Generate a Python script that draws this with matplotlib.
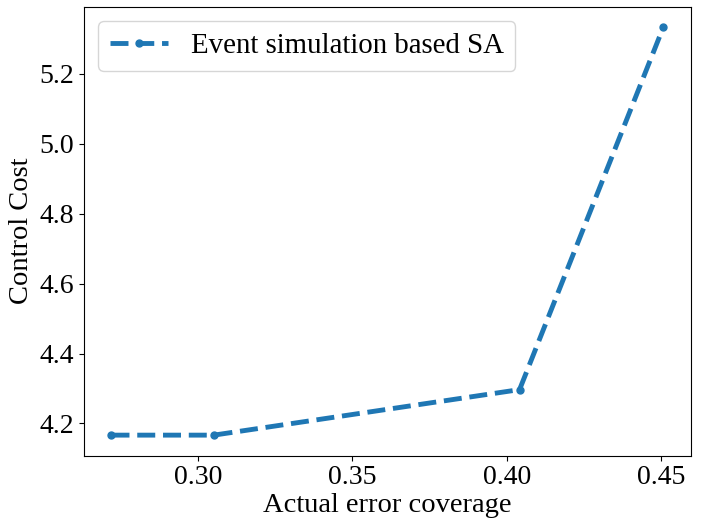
import matplotlib
matplotlib.use("Agg")
import matplotlib.pyplot as plt

plt.rcParams['font.family'] = ['Liberation Serif', 'DejaVu Serif']

# data
coverage = [0.2721, 0.3052, 0.4041, 0.4506]
control_cost = [4.1667, 4.1667, 4.2969, 5.3333]
series_label = "Event simulation based SA"

fig, ax = plt.subplots(figsize=(7.05, 5.23), dpi=100)
fig.subplots_adjust(left=0.119, right=0.980, top=0.987, bottom=0.129)

ax.plot(coverage, control_cost, linestyle='--', marker='o', markersize=5,
        linewidth=3.5, color='#1f77b4', label=series_label)

ax.set_xticks([0.30, 0.35, 0.40, 0.45])
ax.set_yticks([4.2, 4.4, 4.6, 4.8, 5.0, 5.2])
ax.tick_params(labelsize=20)
ax.set_xlabel('Actual error coverage', fontsize=20.5, labelpad=2)
ax.set_ylabel('Control Cost', fontsize=20.5)
ax.legend(loc='upper left', fontsize=20.8)

fig.savefig('out.png', dpi=100)
